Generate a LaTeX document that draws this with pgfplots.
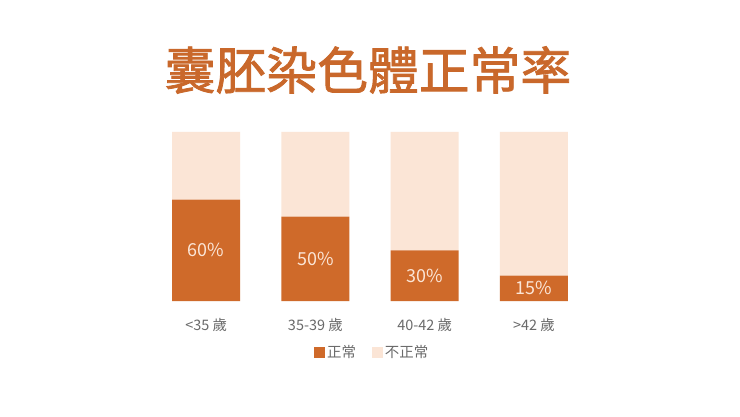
\documentclass[border=0pt]{standalone}
\usepackage{pgfplots}
\pgfplotsset{compat=1.18}
\usepackage{fontspec}
\setmainfont{Noto Sans CJK TC}
\newfontfamily\titlefont{Noto Sans CJK TC}[FakeBold=1.6]
\definecolor{normal}{HTML}{CF6A2A}
\definecolor{abnormal}{HTML}{FBE5D6}
\definecolor{titlecol}{HTML}{C9682B}
\definecolor{txt}{HTML}{6A6A6A}
\pgfplotsset{frame/.style={
  at={(151.5bp,115bp)},anchor=south west,
  scale only axis,width=437bp,height=169bp,
  xmin=-0.5,xmax=3.5,ymin=0,ymax=100,
  axis line style={draw=none},ymajorticks=false}}
\begin{document}
\begin{tikzpicture}[x=1bp,y=1bp]
\path[use as bounding box,fill=white] (0,0) rectangle (740,416);
\node[font=\titlefont\fontsize{51}{60}\selectfont,text=titlecol] at (368,346) {囊胚染色體正常率};
\begin{axis}[frame,
  ybar stacked,bar width=68bp,
  xtick=data,major tick length=0pt,
  xticklabels={<35 歲,35-39 歲,40-42 歲,>42 歲},
  xticklabel style={font=\fontsize{14.5}{16}\selectfont,text=txt,yshift=-14bp},
  legend style={draw=none,fill=none,at={(0.505,-0.305)},anchor=center,
    legend columns=2,font=\fontsize{14.5}{16}\selectfont,text=txt,
    /tikz/every even column/.append style={column sep=14bp}},
  legend image code/.code={\fill[#1] (0bp,-5.5bp) rectangle (11bp,5.5bp);},
]
\addplot[fill=normal,draw=none]
  coordinates {(0,60) (1,50) (2,30) (3,15)};
\addplot[fill=abnormal,draw=none]
  coordinates {(0,40) (1,50) (2,70) (3,85)};
\legend{正常,不正常}
\end{axis}
% value labels, centred in the dark segment
\begin{axis}[frame,xmajorticks=false]
\addplot[draw=none,mark=none,nodes near coords,point meta=explicit symbolic,
  every node near coord/.style={anchor=center,
    font=\fontsize{18}{20}\selectfont,text=abnormal}]
  coordinates {(0,30)[60\%] (1,25)[50\%] (2,15)[30\%] (3,7.5)[15\%]};
\end{axis}
\end{tikzpicture}
\end{document}
